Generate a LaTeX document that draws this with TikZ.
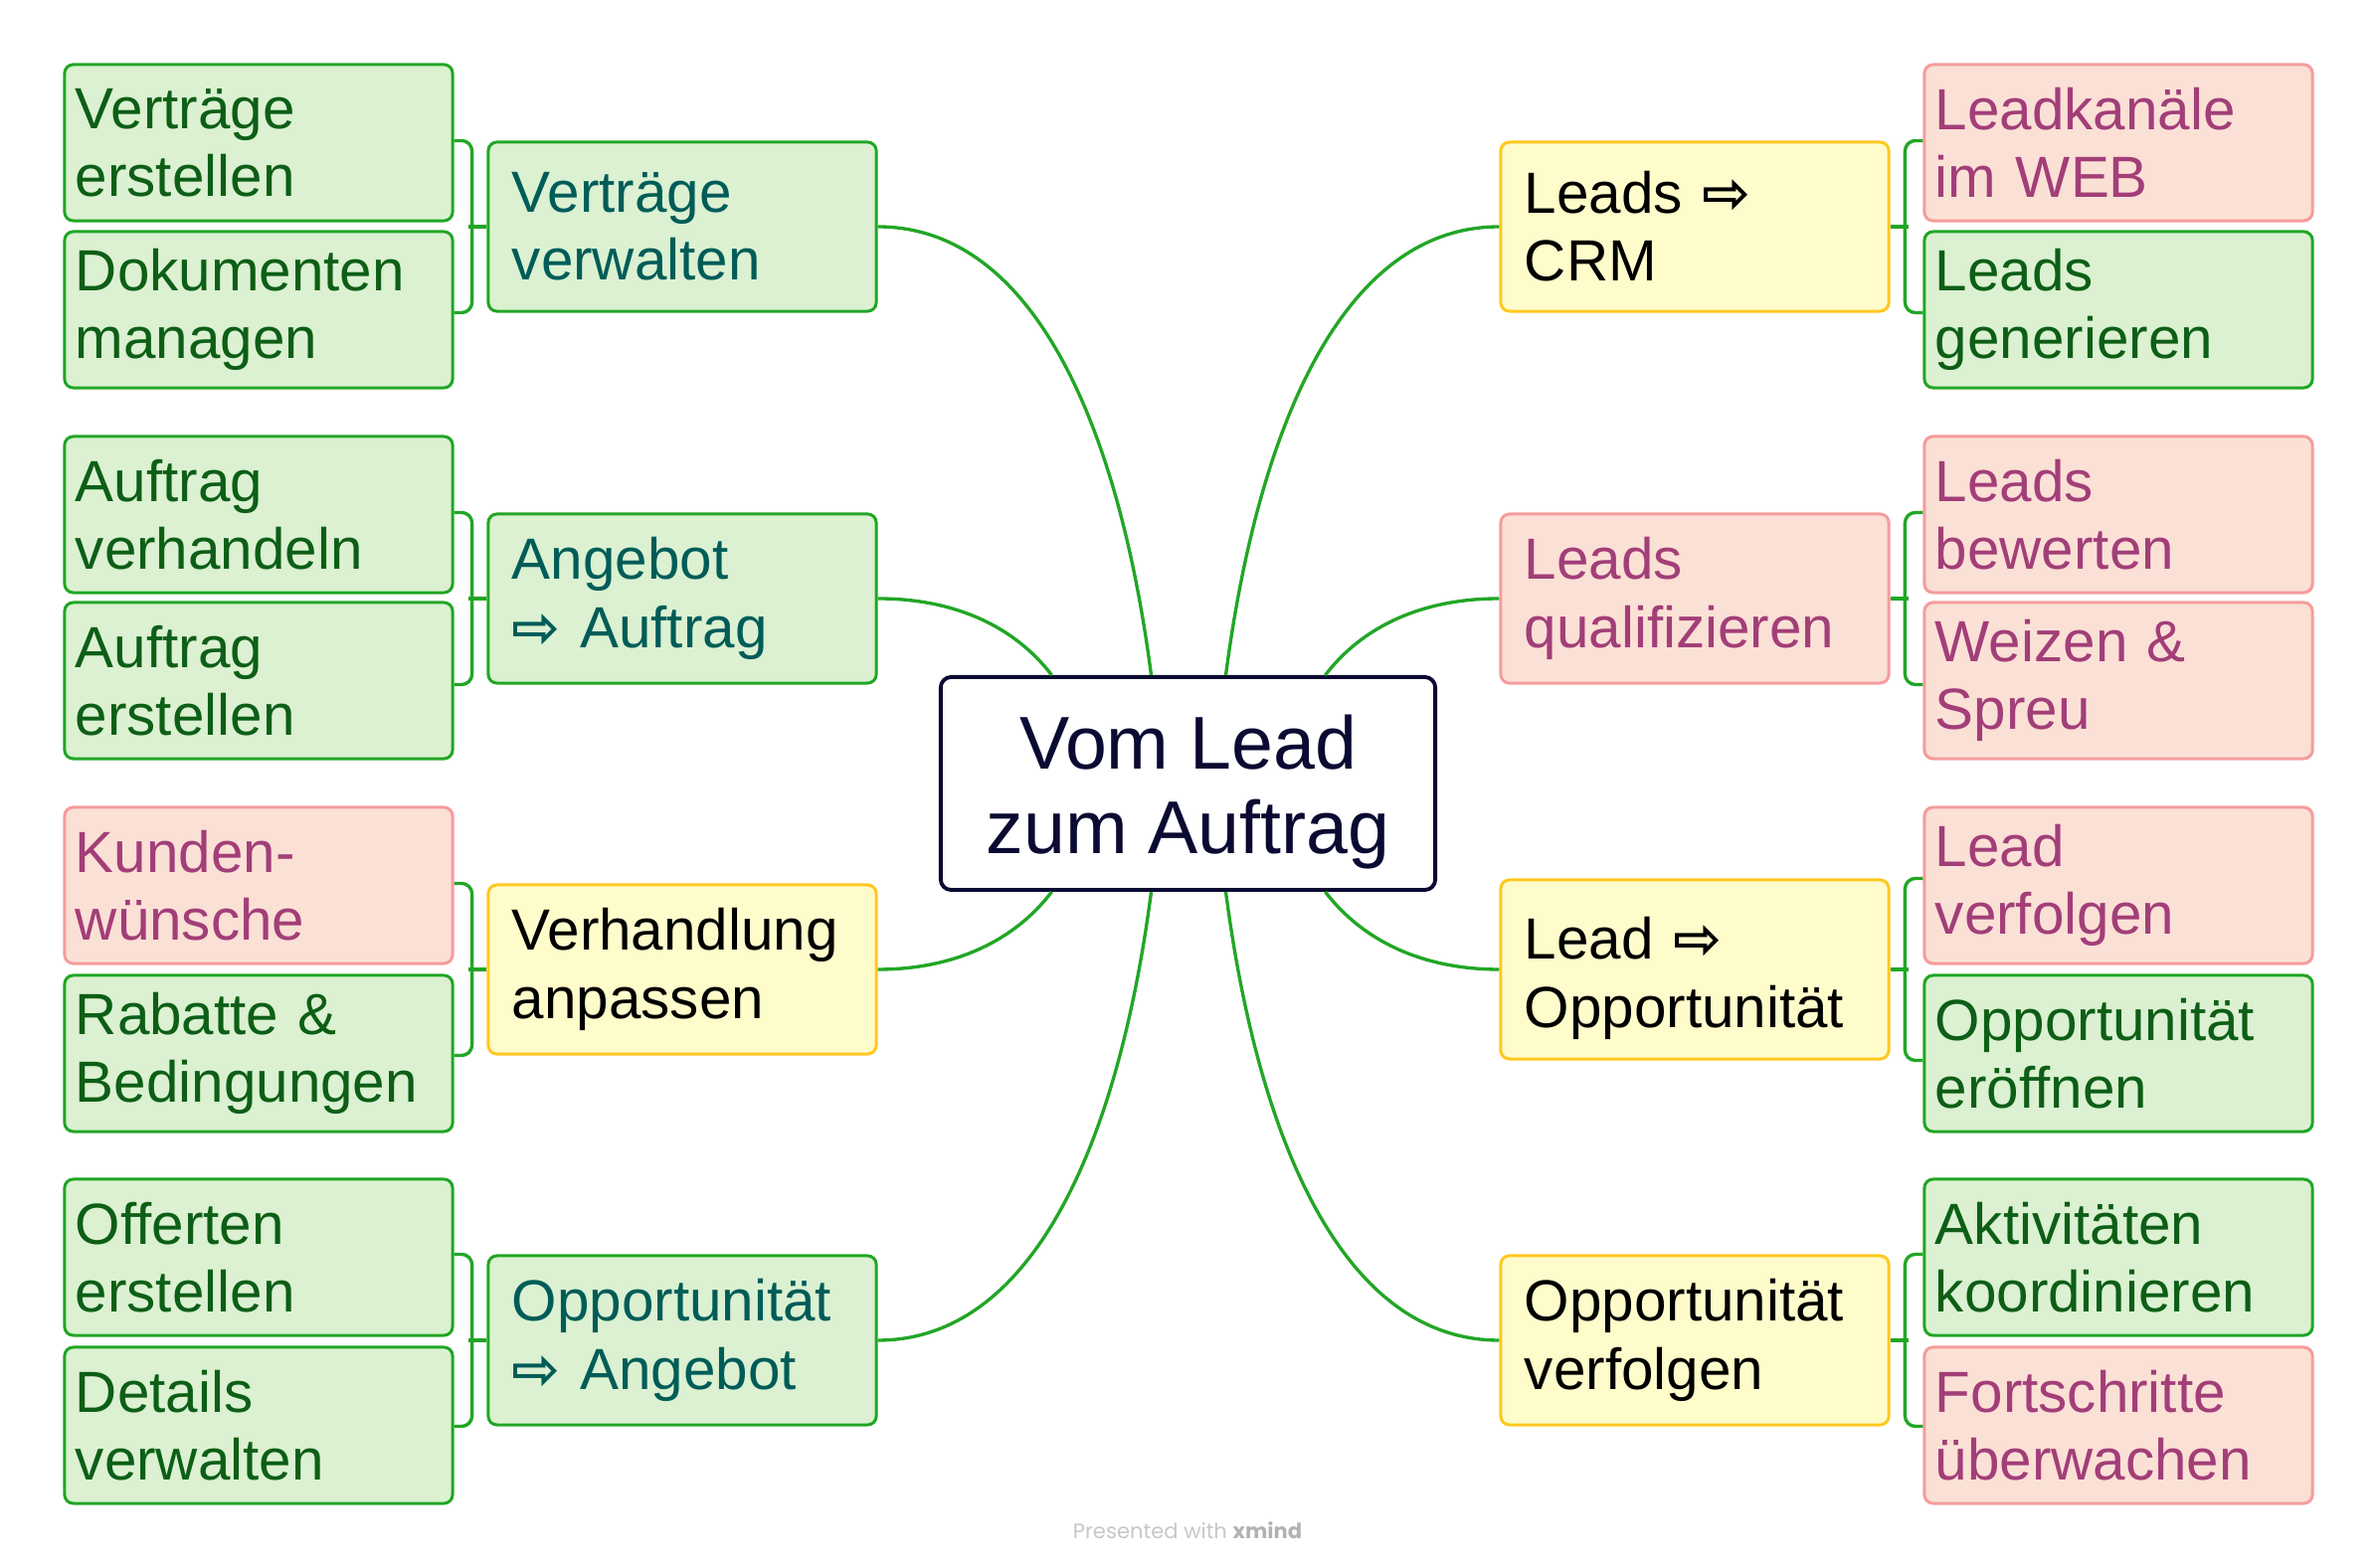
\documentclass[tikz,border=0pt]{standalone}
\usepackage{fontspec}
\setmainfont{Liberation Sans}
\newfontfamily\arrowfont{DejaVu Sans}
\newfontfamily\creditfont{Poppins}
\usepackage{tikz}
\usetikzlibrary{calc,positioning}

\definecolor{linegreen}{HTML}{22A626}
\definecolor{boxgreen}{HTML}{DBF1D1}
\definecolor{txtgreen}{HTML}{0D5E16}
\definecolor{txtteal}{HTML}{005C58}
\definecolor{boxpink}{HTML}{FBE0D6}
\definecolor{linepink}{HTML}{F59C9C}
\definecolor{txtpink}{HTML}{A23E78}
\definecolor{boxyellow}{HTML}{FFFCCB}
\definecolor{lineyellow}{HTML}{FFC820}
\definecolor{navy}{HTML}{0A0A32}

\newcommand{\ra}{{\arrowfont\bfseries ⇨}}

\begin{document}
\begin{tikzpicture}[x=0.01cm, y=-0.01cm,
    link/.style={draw=linegreen, line width=0.95pt},
    box/.style={rectangle, rounded corners=2.5pt, line width=0.85pt, align=left,
        inner ysep=0pt, font=\fontsize{16.6}{19.4}\selectfont},
    leaf/.style={box, text width=3.68cm, inner xsep=0.11cm, minimum height=1.57cm},
    mid/.style={box, text width=3.42cm, inner xsep=0.24cm, minimum height=1.70cm},
    green/.style={draw=linegreen, fill=boxgreen, text=txtgreen},
    teal/.style={draw=linegreen, fill=boxgreen, text=txtteal},
    pink/.style={draw=linepink, fill=boxpink, text=txtpink},
    yellow/.style={draw=lineyellow, fill=boxyellow, text=black},
    root/.style={rectangle, rounded corners=3pt, draw=navy, fill=white, line width=1.1pt,
        text=navy, align=center, minimum width=4.97cm, minimum height=2.14cm,
        font=\fontsize{21.4}{24.2}\selectfont},
    credit/.style={font=\creditfont\fontsize{6}{7}\selectfont, text=black!22}]

    \useasboundingbox (0,0) rectangle (2390,1577);

    % centre
    \node[root] (c) at (1194.5,788) {\rule{0pt}{0.71cm}Vom Lead\\zum Auftrag};

    % left side
    \node[mid, teal] (vv) at (686,228) {Verträge\\verwalten};
    \node[mid, teal] (ab) at (686,602) {Angebot\\\ra{} Auftrag};
    \node[mid, yellow] (va) at (686,975) {Verhandlung\\anpassen};
    \node[mid, teal] (oa) at (686,1348) {Opportunität\\\ra{} Angebot};

    \node[leaf, green] (ve) at (260,143.5) {Verträge\\erstellen};
    \node[leaf, green] (dm) at (260,311.5) {Dokumenten\\managen};
    \node[leaf, green] (av) at (260,517.5) {Auftrag\\verhandeln};
    \node[leaf, green] (ae) at (260,684.5) {Auftrag\\erstellen};
    \node[leaf, pink] (kw) at (260,890.5) {Kunden-\\wünsche};
    \node[leaf, green] (rb) at (260,1059.5) {Rabatte \&\\Bedingungen};
    \node[leaf, green] (oe) at (260,1264.5) {Offerten\\erstellen};
    \node[leaf, green] (dv) at (260,1433.5) {Details\\verwalten};

    % right side
    \node[mid, yellow] (lc) at (1704,228) {Leads \ra\\CRM};
    \node[mid, pink] (lq) at (1704,602) {Leads\\qualifizieren};
    \node[mid, yellow, minimum height=1.80cm] (lo) at (1704,975) {\rule{0pt}{0.6cm}Lead \ra\\Opportunität};
    \node[mid, yellow] (ov) at (1704,1348) {Opportunität\\verfolgen};

    \node[leaf, pink] (lk) at (2130,143.5) {Leadkanäle\\im WEB};
    \node[leaf, green] (lg) at (2130,311.5) {Leads\\generieren};
    \node[leaf, pink] (lb) at (2130,517.5) {Leads\\bewerten};
    \node[leaf, pink] (ws) at (2130,684.5) {Weizen \&\\Spreu};
    \node[leaf, pink] (lf) at (2130,890.5) {Lead\\verfolgen};
    \node[leaf, green] (oo) at (2130,1059.5) {Opportunität\\eröffnen};
    \node[leaf, green] (ak) at (2130,1264.5) {Aktivitäten\\koordinieren};
    \node[leaf, pink] (fu) at (2130,1433.5) {Fortschritte\\überwachen};

    % where the branches meet the centre
    \coordinate (cvv) at ($(c.north)+(-37,0)$);
    \coordinate (cab) at ($(c.north)+(-137,0)$);
    \coordinate (cva) at ($(c.south)+(-137,0)$);
    \coordinate (coa) at ($(c.south)+(-37,0)$);
    \coordinate (clc) at ($(c.north)+(38,0)$);
    \coordinate (clq) at ($(c.north)+(138,0)$);
    \coordinate (clo) at ($(c.south)+(138,0)$);
    \coordinate (cov) at ($(c.south)+(38,0)$);

    \draw[link] (vv.east) .. controls (1040,228) and (1125,430) .. (cvv);
    \draw[link] (ab.east) .. controls (960,602) and (1020,630) .. (cab);
    \draw[link] (va.east) .. controls (960,975) and (1020,946) .. (cva);
    \draw[link] (oa.east) .. controls (1040,1348) and (1125,1146) .. (coa);
    \draw[link] (lc.west) .. controls (1350,228) and (1265,430) .. (clc);
    \draw[link] (lq.west) .. controls (1430,602) and (1370,630) .. (clq);
    \draw[link] (lo.west) .. controls (1430,975) and (1370,946) .. (clo);
    \draw[link] (ov.west) .. controls (1350,1348) and (1265,1146) .. (cov);

    % brackets
    \draw[link, rounded corners=3pt] (ve.east |- vv.north) -- ++(18,0) |- (dm.east |- vv.south);
    \draw[link, rounded corners=3pt] (av.east |- ab.north) -- ++(18,0) |- (ae.east |- ab.south);
    \draw[link, rounded corners=3pt] (kw.east |- va.north) -- ++(18,0) |- (rb.east |- va.south);
    \draw[link, rounded corners=3pt] (oe.east |- oa.north) -- ++(18,0) |- (dv.east |- oa.south);
    \draw[link] (vv.west) -- ++(-18,0);
    \draw[link] (ab.west) -- ++(-18,0);
    \draw[link] (va.west) -- ++(-18,0);
    \draw[link] (oa.west) -- ++(-18,0);

    \draw[link, rounded corners=3pt] (lk.west |- lc.north) -- ++(-18,0) |- (lg.west |- lc.south);
    \draw[link, rounded corners=3pt] (lb.west |- lq.north) -- ++(-18,0) |- (ws.west |- lq.south);
    \draw[link, rounded corners=3pt] (lf.west |- lo.north) -- ++(-18,0) |- (oo.west |- lo.south);
    \draw[link, rounded corners=3pt] (ak.west |- ov.north) -- ++(-18,0) |- (fu.west |- ov.south);
    \draw[link] (lc.east) -- ++(18,0);
    \draw[link] (lq.east) -- ++(18,0);
    \draw[link] (lo.east) -- ++(18,0);
    \draw[link] (ov.east) -- ++(18,0);

    \node[credit] (ft) at (1194,1539) {Presented with {\color{black!30}\bfseries xmind}};
\end{tikzpicture}
\end{document}
